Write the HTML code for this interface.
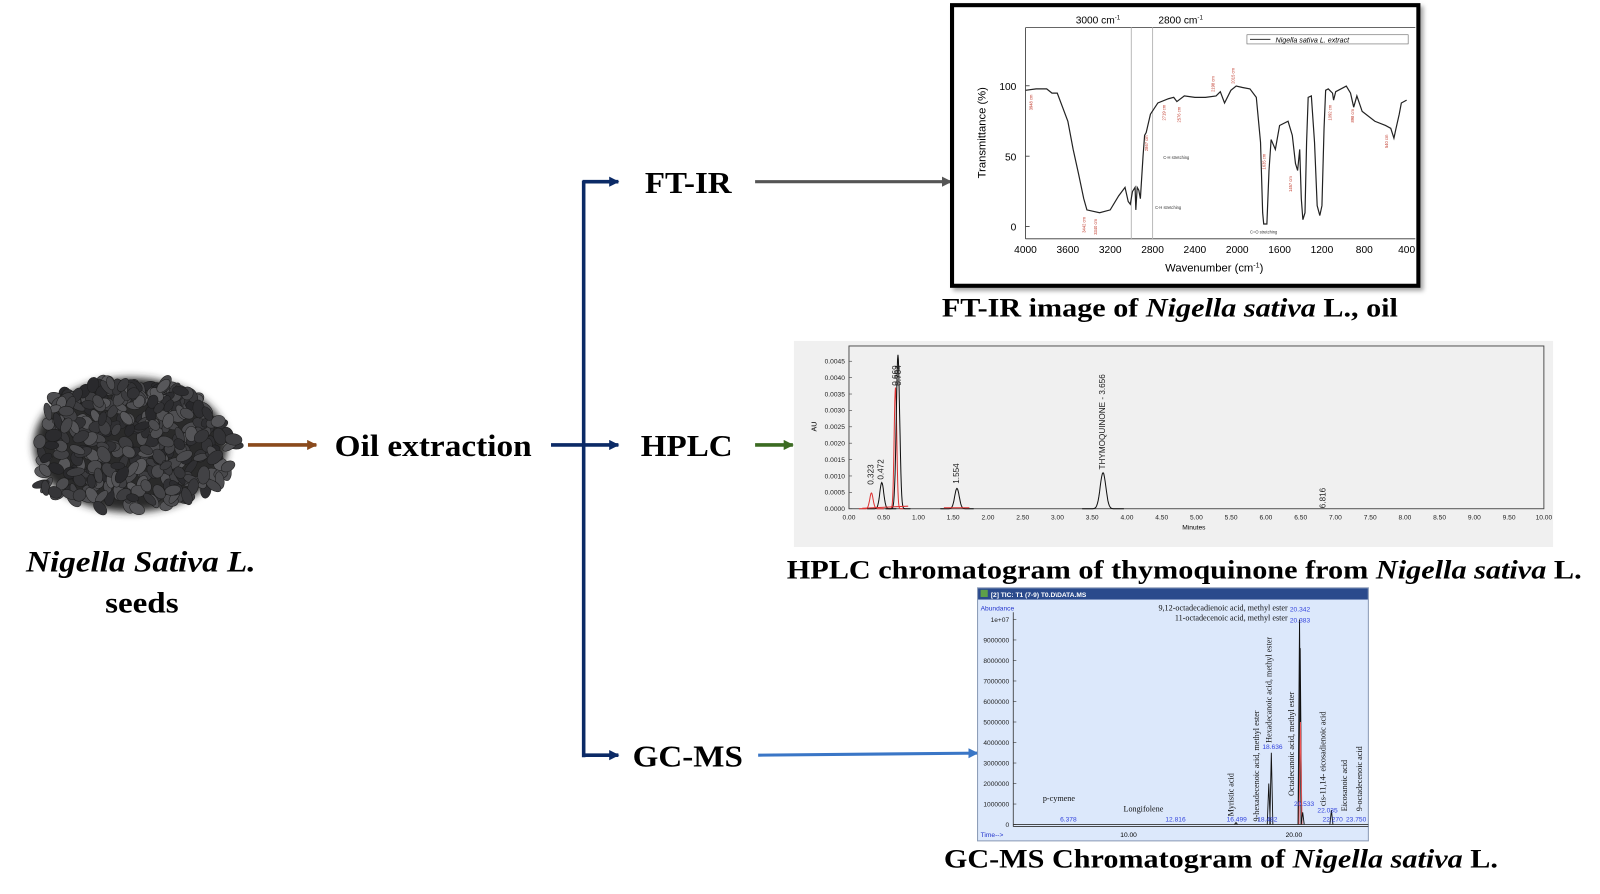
<!DOCTYPE html>
<html><head><meta charset="utf-8"><style>
html,body{margin:0;padding:0;background:#fff;}
svg{display:block}
.t{font-family:"Liberation Serif",serif;font-weight:bold;fill:#000}
.s{font-family:"Liberation Sans",sans-serif}
</style></head><body>
<svg id="s" width="1600" height="894" viewBox="0 0 1568 876" xmlns="http://www.w3.org/2000/svg">
<defs>
<marker id="m" markerWidth="10" markerHeight="10" refX="9" refY="5" orient="auto" markerUnits="userSpaceOnUse"><path d="M0,0 L10,5 L0,10 Z" fill="context-stroke"/></marker>
<filter id="sh" x="-5%" y="-5%" width="110%" height="110%"><feDropShadow dx="3" dy="3" stdDeviation="2" flood-color="#000" flood-opacity="0.35"/></filter>
<filter id="bl"><feGaussianBlur stdDeviation="4"/></filter>
</defs>
<rect width="1568" height="876" fill="#fff"/>

<g id="seeds">
<ellipse cx="128" cy="436" rx="95" ry="66" fill="#2a2a2a" filter="url(#bl)"/>
</g>

<text class="t" x="138" y="560" font-size="29" font-style="italic" text-anchor="middle" textLength="225" lengthAdjust="spacingAndGlyphs">Nigella Sativa L.</text>
<text class="t" x="139" y="600" font-size="29" text-anchor="middle" textLength="72" lengthAdjust="spacingAndGlyphs">seeds</text>

<line x1="243" y1="436" x2="310" y2="436" stroke="#8a4a1c" stroke-width="3.5" marker-end="url(#m)"/>
<text class="t" x="328" y="447" font-size="30" textLength="193" lengthAdjust="spacingAndGlyphs">Oil extraction</text>
<line x1="540" y1="436" x2="606" y2="436" stroke="#0b2a66" stroke-width="3.5" marker-end="url(#m)"/>
<line x1="572" y1="177" x2="572" y2="742" stroke="#0b2a66" stroke-width="3.5"/>
<line x1="571" y1="178" x2="606" y2="178" stroke="#0b2a66" stroke-width="3.5" marker-end="url(#m)"/>
<line x1="571" y1="740" x2="606" y2="740" stroke="#0b2a66" stroke-width="3.5" marker-end="url(#m)"/>
<text class="t" x="632" y="189" font-size="30" textLength="85" lengthAdjust="spacingAndGlyphs">FT-IR</text>
<text class="t" x="628" y="447" font-size="30" textLength="90" lengthAdjust="spacingAndGlyphs">HPLC</text>
<text class="t" x="620" y="751" font-size="30" textLength="108" lengthAdjust="spacingAndGlyphs">GC-MS</text>
<line x1="740" y1="178" x2="932" y2="178" stroke="#555" stroke-width="3" marker-end="url(#m)"/>
<line x1="740" y1="436" x2="777" y2="436" stroke="#3b6b22" stroke-width="3.5" marker-end="url(#m)"/>
<line x1="743" y1="740" x2="958" y2="738" stroke="#3a76c6" stroke-width="3" marker-end="url(#m)"/>

<rect x="933" y="5" width="457" height="275" fill="#fff" stroke="#000" stroke-width="4" filter="url(#sh)"/>
<line x1="1005" y1="27" x2="1005" y2="234" stroke="#333" stroke-width="0.8"/>
<line x1="1005" y1="234" x2="1387" y2="234" stroke="#333" stroke-width="0.8"/>
<line x1="1005" y1="27" x2="1387" y2="27" stroke="#333" stroke-width="0.8"/>
<line x1="1108.7" y1="27" x2="1108.7" y2="234" stroke="#bbb" stroke-width="1"/>
<line x1="1129.5" y1="27" x2="1129.5" y2="234" stroke="#bbb" stroke-width="1"/>
<text class="s" x="1076" y="23" font-size="10" text-anchor="middle">3000 cm<tspan font-size="6" dy="-4">-1</tspan></text>
<text class="s" x="1157" y="23" font-size="10" text-anchor="middle">2800 cm<tspan font-size="6" dy="-4">-1</tspan></text>
<rect x="1222" y="34" width="158" height="9" fill="#fff" stroke="#666" stroke-width="0.6"/>
<line x1="1225" y1="38.5" x2="1245" y2="38.5" stroke="#333"/>
<text class="s" x="1250" y="41.5" font-size="7" font-style="italic">Nigella sativa L. extract</text>
<text class="s" x="996" y="88" font-size="10" text-anchor="end">100</text>
<text class="s" x="996" y="157" font-size="10" text-anchor="end">50</text>
<text class="s" x="996" y="226" font-size="10" text-anchor="end">0</text>
<g stroke="#333" stroke-width="0.8"><line x1="1005" y1="84" x2="1009" y2="84"/><line x1="1005" y1="153" x2="1009" y2="153"/><line x1="1005" y1="222" x2="1009" y2="222"/></g>
<text class="s" x="966" y="130" font-size="11" text-anchor="middle" transform="rotate(-90 966 130)">Transmittance (%)</text>
<g class="s" font-size="10" text-anchor="middle">
<text x="1005" y="248">4000</text><text x="1046.5" y="248">3600</text><text x="1088" y="248">3200</text><text x="1129.5" y="248">2800</text><text x="1171" y="248">2400</text><text x="1212.5" y="248">2000</text><text x="1254" y="248">1600</text><text x="1295.5" y="248">1200</text><text x="1337" y="248">800</text><text x="1378.5" y="248">400</text>
</g>
<text class="s" x="1190" y="266" font-size="11" text-anchor="middle">Wavenumber (cm<tspan font-size="7" dy="-4">-1</tspan><tspan dy="4">)</tspan></text>
<g transform="matrix(-0.10375 0 0 -1.379 1420 222.2)">
<polyline fill="none" stroke="#222" stroke-width="1.2" vector-effect="non-scaling-stroke" points="4000,97 3900,98 3800,98 3750,95 3700,95 3650,85 3600,75 3550,55 3500,38 3450,20 3420,12 3300,10 3200,12 3120,22 3060,28 3030,18 3010,16 2990,25 2965,28 2958,12 2945,28 2930,26 2915,20 2890,50 2875,65 2860,67 2820,80 2750,88 2650,91 2600,92 2570,89 2500,93 2400,92 2300,92 2200,93 2160,96 2120,88 2060,97 2010,100 1950,99 1880,98 1820,92 1780,60 1760,10 1750,2 1720,2 1700,40 1680,62 1640,55 1600,72 1520,75 1480,65 1450,45 1430,40 1410,55 1395,20 1380,5 1360,10 1345,60 1330,92 1300,93 1270,60 1245,15 1220,8 1200,15 1180,70 1165,97 1140,98 1100,95 1090,90 1070,96 970,100 930,95 900,85 870,93 820,82 700,75 600,72 550,70 520,63 500,70 470,80 450,88 400,90"/>
</g>
<g class="s" font-size="4" fill="#c0392b">
<text transform="translate(1012,108) rotate(-90)">3948 cm</text><text transform="translate(1064,228) rotate(-90)">3442 cm</text><text transform="translate(1075,230) rotate(-90)">3340 cm</text>
<text transform="translate(1125,148) rotate(-90)">2867 cm</text><text transform="translate(1142,118) rotate(-90)">2719 cm</text><text transform="translate(1157,120) rotate(-90)">2576 cm</text>
<text transform="translate(1190,90) rotate(-90)">2198 cm</text><text transform="translate(1210,82) rotate(-90)">2015 cm</text><text transform="translate(1240,166) rotate(-90)">1635 cm</text>
<text transform="translate(1266,188) rotate(-90)">1457 cm</text><text transform="translate(1305,118) rotate(-90)">1092 cm</text><text transform="translate(1327,120) rotate(-90)">898 cm</text><text transform="translate(1360,145) rotate(-90)">540 cm</text>
</g>
<g class="s" font-size="4" fill="#333"><text x="1140" y="156">C-H stretching</text><text x="1132" y="205">C-H stretching</text><text x="1225" y="229">C=O stretching</text></g>

<text class="t" x="923" y="310" font-size="26" textLength="447" lengthAdjust="spacingAndGlyphs">FT-IR image of <tspan font-style="italic">Nigella sativa</tspan> L., oil</text>

<rect x="778" y="334" width="744" height="202" fill="#f0f0f0"/>
<rect x="832" y="339" width="681" height="159.5" fill="none" stroke="#444" stroke-width="0.9"/>
<g id="hy" class="s" font-size="6.5" text-anchor="end" fill="#222"></g>
<g id="hx" class="s" font-size="6.5" text-anchor="middle" fill="#222"></g>
<text class="s" x="1170" y="519" font-size="6.5" text-anchor="middle">Minutes</text>
<text class="s" x="800" y="418" font-size="7" text-anchor="middle" transform="rotate(-90 800 418)">AU</text>
<g id="hp"></g>
<g class="s" font-size="8" fill="#222">
<text transform="translate(856,475) rotate(-90)">0.323</text>
<text transform="translate(866,470) rotate(-90)">0.472</text>
<text transform="translate(880,378) rotate(-90)">0.669</text>
<text transform="translate(883,378) rotate(-90)">0.704</text>
<text transform="translate(940,474) rotate(-90)">1.554</text>
<text transform="translate(1083,460) rotate(-90)">THYMOQUINONE - 3.656</text>
<text transform="translate(1299,498) rotate(-90)">6.816</text>
</g>
<text class="t" x="771" y="567" font-size="26" textLength="779" lengthAdjust="spacingAndGlyphs">HPLC chromatogram of thymoquinone from <tspan font-style="italic">Nigella sativa</tspan> L.</text>

<rect x="958" y="576" width="383" height="248" fill="#dce8fb" stroke="#8a9ab5" stroke-width="1"/>
<rect x="958.5" y="576.5" width="382" height="11" fill="#2a4a8c"/>
<rect x="961" y="578" width="7" height="7" fill="#5da04a"/>
<text class="s" x="971" y="585" font-size="6.5" fill="#fff" font-weight="bold">[2] TIC: T1 (7-9) T0.D\DATA.MS</text>
<line x1="993" y1="600" x2="993" y2="810" stroke="#333" stroke-width="0.8"/>
<line x1="993" y1="810" x2="1341" y2="810" stroke="#333" stroke-width="0.8"/>
<text class="s" x="961" y="598" font-size="6.5" fill="#2233cc">Abundance</text>
<text class="s" x="961" y="820" font-size="6.5" fill="#2233cc">Time--&gt;</text>
<g id="gy" class="s" font-size="6.5" text-anchor="end" fill="#222"></g>
<text class="s" x="1106" y="820" font-size="6.5" text-anchor="middle">10.00</text>
<text class="s" x="1268" y="820" font-size="6.5" text-anchor="middle">20.00</text>
<g id="gp"></g>
<g font-family="Liberation Serif,serif" font-size="8" fill="#111">
<text x="1262" y="598" text-anchor="end">9,12-octadecadienoic acid, methyl ester</text>
<text x="1262" y="608" text-anchor="end">11-octadecenoic acid, methyl ester</text>
<text x="1022" y="785">p-cymene</text>
<text x="1101" y="795">Longifolene</text>
<text transform="translate(1209,800) rotate(-90)">Myristic acid</text>
<text transform="translate(1234,805) rotate(-90)">9-hexadecenoic acid, methyl ester</text>
<text transform="translate(1246,728) rotate(-90)">Hexadecanoic acid, methyl ester</text>
<text transform="translate(1268,780) rotate(-90)">Octadecanoic acid, methyl ester</text>
<text transform="translate(1299,790) rotate(-90)">cis-11,14- eicosadienoic acid</text>
<text transform="translate(1320,795) rotate(-90)">Eicosanoic acid</text>
<text transform="translate(1335,795) rotate(-90)">9-octadecenoic acid</text>
</g>
<g class="s" font-size="6.5" fill="#3344dd" text-anchor="middle">
<text x="1274" y="599">20.342</text><text x="1274" y="610">20.383</text>
<text x="1047" y="805">6.378</text><text x="1152" y="805">12.816</text><text x="1212" y="805">16.499</text><text x="1242" y="805">18.482</text>
<text x="1247" y="734">18.636</text><text x="1278" y="790">20.533</text><text x="1301" y="796">22.035</text><text x="1306" y="805">22.270</text><text x="1329" y="805">23.750</text>
</g>
<text class="t" x="925" y="850" font-size="26" textLength="543" lengthAdjust="spacingAndGlyphs">GC-MS Chromatogram of <tspan font-style="italic">Nigella sativa</tspan> L.</text>
</svg>
<script>
(function(){
var NS="http://www.w3.org/2000/svg";
function el(p,t,a,txt){var e=document.createElementNS(NS,t);for(var k in a)e.setAttribute(k,a[k]);if(txt!=null)e.textContent=txt;p.appendChild(e);return e;}
var sg=document.getElementById("seeds");var seed=7;function r(){seed=(seed*16807)%2147483647;return seed/2147483647;}
for(var i=0;i<380;i++){var a=r()*Math.PI*2,d=Math.sqrt(r());
var rx=108*(0.92+0.08*Math.sin(a*3+1)),ry=76*(0.92+0.08*Math.cos(a*2));
var cx=128+Math.cos(a)*d*rx,cy=436+Math.sin(a)*d*ry;
var g=Math.floor(40+r()*50);el(sg,"ellipse",{cx:cx.toFixed(1),cy:cy.toFixed(1),rx:(3.5+r()*2.5).toFixed(1),ry:(6+r()*3).toFixed(1),fill:"rgb("+g+","+g+","+(g+3)+")",stroke:"#1c1c1c","stroke-width":"0.5",transform:"rotate("+Math.floor(r()*180)+" "+cx.toFixed(1)+" "+cy.toFixed(1)+")"});}
var hy=document.getElementById("hy");for(var j=0;j<=9;j++){var v=j*0.0005,y=498.5-j*16.06;el(hy,"text",{x:828,y:(y+2.3).toFixed(1)},v.toFixed(4));el(hy,"line",{x1:832,y1:y,x2:835,y2:y,stroke:"#444","stroke-width":0.6});}
var hx=document.getElementById("hx");for(var j=0;j<=20;j++){var x=832+j*0.5*68.1;el(hx,"text",{x:x.toFixed(1),y:509},(j*0.5).toFixed(2));}
function pk(par,t0,h,w,col,x0,sx,y0,sy){var d="";for(var k=-30;k<=30;k++){var t=t0+k*w/10;var v=h*Math.exp(-Math.pow((t-t0)/w,2)*3);var x=x0+t*sx,y=y0-v*sy;d+=(k==-30?"M":"L")+x.toFixed(1)+","+y.toFixed(1);}el(par,"path",{d:d,fill:"none",stroke:col,"stroke-width":1});}
var hp=document.getElementById("hp");var HS=32111;
pk(hp,0.323,0.00048,0.06,"#d33",832,68.1,498.5,HS);
pk(hp,0.472,0.0008,0.07,"#111",832,68.1,498.5,HS);
pk(hp,0.669,0.0037,0.045,"#d33",832,68.1,498.5,HS);
pk(hp,0.705,0.0047,0.06,"#111",832,68.1,498.5,HS);
pk(hp,1.554,0.00062,0.08,"#111",832,68.1,498.5,HS);
pk(hp,3.656,0.0011,0.1,"#111",832,68.1,498.5,HS);
el(hp,"line",{x1:845,y1:498,x2:890,y2:496,stroke:"#d33","stroke-width":1});
el(hp,"line",{x1:925,y1:497.5,x2:950,y2:497.5,stroke:"#d33","stroke-width":1});
var gy=document.getElementById("gy");var lab=["0","1000000","2000000","3000000","4000000","5000000","6000000","7000000","8000000","9000000","1e+07"];
for(var j=0;j<=10;j++){var y=808-j*20.1;el(gy,"text",{x:989,y:(y+2.3).toFixed(1)},lab[j]);el(gy,"line",{x1:993,y1:y,x2:996,y2:y,stroke:"#333","stroke-width":0.6});}
var gp=document.getElementById("gp");
function sp(t,h,col){var x=1106+(t-10)*16.2;el(gp,"path",{d:"M"+(x-1.5)+",808 L"+x+","+(808-h*20.1)+" L"+(x+1.5)+",808",fill:"none",stroke:col,"stroke-width":0.9});}
sp(18.482,2,"#111");sp(18.636,3.5,"#111");sp(20.342,10,"#111");sp(20.383,8.6,"#111");sp(20.40,5,"#e55");sp(20.533,0.6,"#111");sp(22.270,0.7,"#111");sp(16.499,0.1,"#111");
el(gp,"line",{x1:993,y1:808,x2:1341,y2:808,stroke:"#333","stroke-width":0.8});
})();
</script>
</body></html>
